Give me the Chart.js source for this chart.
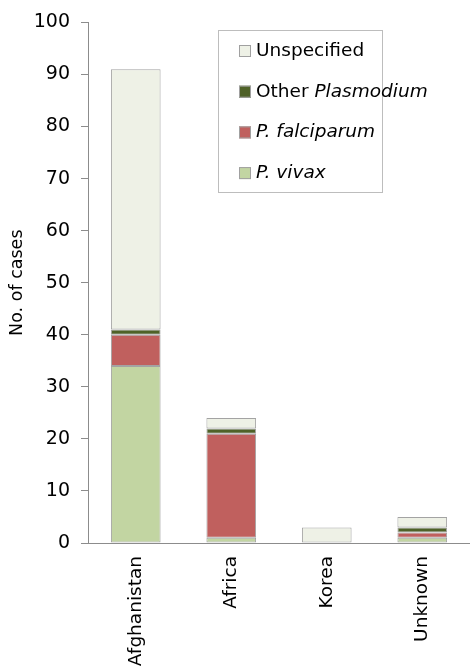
<html>
<head>
<title>Malaria cases</title>
<style>
  html, body { margin: 0; padding: 0; background: #fff; }
  #wrap { width: 470px; height: 668px; }
</style>
</head>
<body>
<div id="wrap"><canvas id="casesChart"></canvas></div>
<script src="https://cdn.jsdelivr.net/npm/chart.js@4.4.0/dist/chart.umd.min.js"></script>
<script>
const regions = ["Afghanistan", "Africa", "Korea", "Unknown"];
const vivax = [34, 1, null, 1];
const falciparum = [6, 20, null, 1];
const otherPlasmodium = [1, 1, null, 1];
const unspecified = [50, 2, 3, 2];
const yTicks = [0, 10, 20, 30, 40, 50, 60, 70, 80, 90, 100];

// legend text: [text, italic] pieces, top to bottom
const legendRows = [
  { color: "#eef1e6", parts: [["Unspecified", false]] },
  { color: "#4f6228", parts: [["Other ", false], ["Plasmodium", true]] },
  { color: "#c0605e", parts: [["P. falciparum", true]] },
  { color: "#c2d5a2", parts: [["P. vivax", true]] }
];

const font = "'DejaVu Sans', sans-serif";
const axisGray = "#8c8c8c";

const boxLegend = {
  id: "boxLegend",
  afterDraw(chart) {
    const ctx = chart.ctx;
    ctx.save();
    ctx.strokeStyle = "#bdbdbd";
    ctx.lineWidth = 1;
    ctx.strokeRect(218.5, 30.5, 164, 162);
    legendRows.forEach((row, i) => {
      const y = 50 + i * 40.7;
      ctx.fillStyle = row.color;
      ctx.fillRect(239, y - 5, 12, 12);
      ctx.strokeStyle = "#a0a0a0";
      ctx.strokeRect(239.5, y - 4.5, 11, 11);
      let x = 256;
      ctx.textBaseline = "middle";
      ctx.fillStyle = "#000";
      row.parts.forEach(p => {
        ctx.font = (p[1] ? "oblique " : "") + "18.5px " + font;
        ctx.fillText(p[0], x, y + 1);
        x += ctx.measureText(p[0]).width;
      });
    });
    ctx.restore();
  }
};

function ds(label, data, color) {
  return {
    label: label,
    data: data,
    backgroundColor: color,
    borderColor: "#a3a3a3",
    borderWidth: 1,
    borderSkipped: false,
    barPercentage: 0.52,
    categoryPercentage: 1.0
  };
}

new Chart(document.getElementById("casesChart"), {
  type: "bar",
  data: {
    labels: regions,
    datasets: [
      ds("P. vivax", vivax, "#c2d5a2"),
      ds("P. falciparum", falciparum, "#c0605e"),
      ds("Other Plasmodium", otherPlasmodium, "#4f6228"),
      ds("Unspecified", unspecified, "#eef1e6")
    ]
  },
  options: {
    responsive: true,
    maintainAspectRatio: false,
    animation: false,
    layout: { padding: { top: 22, right: 0, left: 0, bottom: 0 } },
    plugins: {
      legend: { display: false },
      tooltip: { enabled: false }
    },
    scales: {
      x: {
        stacked: true,
        grid: { display: false },
        border: { display: true, color: axisGray, width: 1 },
        ticks: {
          color: "#000",
          font: { family: font, size: 18.5 },
          minRotation: 90,
          maxRotation: 90,
          padding: 5
        },
        afterFit: s => { s.height = 125; }
      },
      y: {
        stacked: true,
        min: 0,
        max: 100,
        afterBuildTicks: s => { s.ticks = yTicks.map(v => ({ value: v })); },
        grid: { drawOnChartArea: false, tickLength: 7, color: axisGray },
        border: { display: true, color: axisGray, width: 1 },
        ticks: {
          color: "#000",
          font: { family: font, size: 19 },
          padding: 11
        },
        title: {
          display: true,
          text: "No. of cases",
          color: "#000",
          font: { family: font, size: 17.5 },
          padding: { top: 7, bottom: 0 }
        },
        afterFit: s => { s.width = 88; }
      }
    }
  },
  plugins: [boxLegend]
});
</script>
</body>
</html>
